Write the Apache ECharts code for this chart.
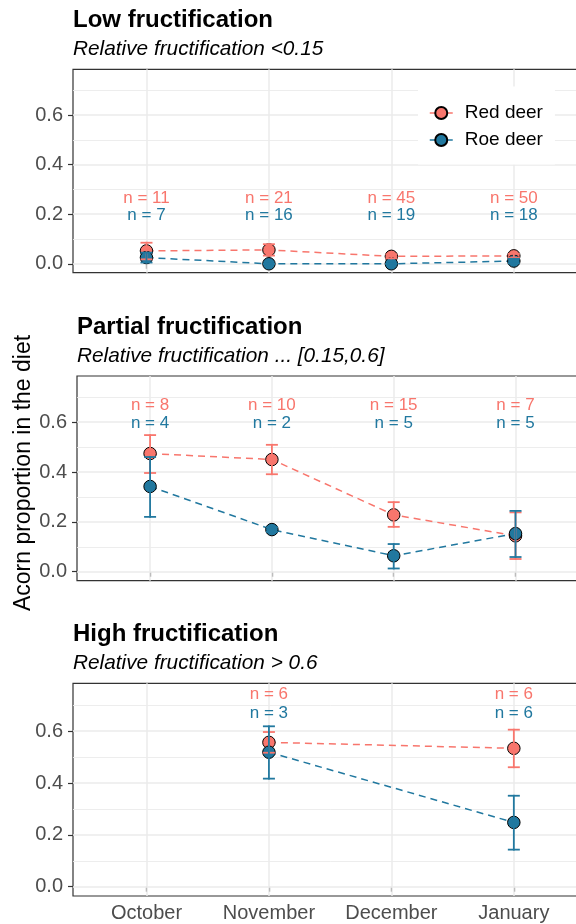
<!DOCTYPE html>
<html>
<head>
<meta charset="utf-8">
<script src="https://cdn.jsdelivr.net/npm/echarts@6/dist/echarts.min.js"></script>
<style>
html,body{margin:0;padding:0;background:#fff;overflow:hidden;width:576px;height:924px;}
#chart{width:600px;height:924px;}
</style>
</head>
<body>
<div id="chart"></div>
<script>
// ---------- data ----------
const months = ['October', 'November', 'December', 'January'];
const yTicks = [0, 0.2, 0.4, 0.6];
const yMinor = [0.1, 0.3, 0.5, 0.7];

const panelTitles = ['Low fructification', 'Partial fructification', 'High fructification'];
const panelSubtitles = ['Relative fructification <0.15', 'Relative fructification ... [0.15,0.6]', 'Relative fructification > 0.6'];

// Low fructification
const lowRedMean = [0.052, 0.056, 0.030, 0.032];
const lowRedLo   = [0.018, 0.033, 0.022, 0.025];
const lowRedHi   = [0.085, 0.079, 0.038, 0.040];
const lowRoeMean = [0.025, 0.000, 0.000, 0.011];
const lowRoeLo   = [0.005, 0.000, 0.000, 0.002];
const lowRoeHi   = [0.045, 0.000, 0.000, 0.020];
const lowRedN = [11, 21, 45, 50];
const lowRoeN = [7, 16, 19, 18];

// Partial fructification
const partRedMean = [0.474, 0.450, 0.228, 0.144];
const partRedLo   = [0.396, 0.391, 0.180, 0.051];
const partRedHi   = [0.548, 0.509, 0.279, 0.238];
const partRoeMean = [0.342, 0.169, 0.064, 0.153];
const partRoeLo   = [0.220, 0.160, 0.013, 0.059];
const partRoeHi   = [0.460, 0.178, 0.111, 0.244];
const partRedN = [8, 10, 15, 7];
const partRoeN = [4, 2, 5, 5];

// High fructification
const highRedMean = [null, 0.557, null, 0.534];
const highRedLo   = [null, 0.517, null, 0.461];
const highRedHi   = [null, 0.597, null, 0.606];
const highRoeMean = [null, 0.519, null, 0.248];
const highRoeLo   = [null, 0.417, null, 0.143];
const highRoeHi   = [null, 0.619, null, 0.351];
const highRedN = [null, 6, null, 6];
const highRoeN = [null, 3, null, 6];

// ---------- layout / style ----------
const RED = '#F8766D';
const BLUE = '#21789F';
const FONT = "'Liberation Sans', Arial, sans-serif";

const panels = [
  {red:[lowRedMean, lowRedLo, lowRedHi], roe:[lowRoeMean, lowRoeLo, lowRoeHi], nRed:lowRedN, nRoe:lowRoeN,
   grid:{left:73, top:69.3, width:514.3, height:203.4}, labY:[0.265, 0.197]},
  {red:[partRedMean, partRedLo, partRedHi], roe:[partRoeMean, partRoeLo, partRoeHi], nRed:partRedN, nRoe:partRoeN,
   grid:{left:77, top:376, width:511.6, height:204.7}, labY:[0.667, 0.597]},
  {red:[highRedMean, highRedLo, highRedHi], roe:[highRoeMean, highRoeLo, highRoeHi], nRed:highRedN, nRoe:highRoeN,
   grid:{left:73, top:683.3, width:514.3, height:212.7}, labY:[0.742, 0.671]}
];

const grids = [], xAxes = [], yAxes = [], series = [], titles = [];

function pts(mean) {
  const out = [];
  mean.forEach((v, i) => { if (v !== null) out.push([i + 1, v]); });
  return out;
}
function bars(mean, lo, hi) {
  const out = [];
  mean.forEach((v, i) => { if (v !== null) out.push([i + 1, lo[i], hi[i]]); });
  return out;
}
function labs(ns, y) {
  const out = [];
  ns.forEach((n, i) => { if (n !== null) out.push([i + 1, y, n]); });
  return out;
}
function errRender(color) {
  return function (params, api) {
    const x = api.value(0);
    const top = api.coord([x, api.value(2)]);
    const bot = api.coord([x, api.value(1)]);
    const w = 6, lw = 1.8;
    const st = {fill: color};
    return {type: 'group', children: [
      {type: 'rect', shape: {x: top[0] - lw / 2, y: top[1] - lw / 2, width: lw, height: bot[1] - top[1] + lw}, style: st},
      {type: 'rect', shape: {x: top[0] - w, y: top[1] - lw / 2, width: 2 * w, height: lw}, style: st},
      {type: 'rect', shape: {x: bot[0] - w, y: bot[1] - lw / 2, width: 2 * w, height: lw}, style: st}
    ]};
  };
}
function labRender(color) {
  return function (params, api) {
    const p = api.coord([api.value(0), api.value(1)]);
    return {type: 'text', x: p[0], y: p[1], style: {
      text: 'n = ' + api.value(2), fill: color, font: '17px ' + FONT, align: 'center', verticalAlign: 'middle'}};
  };
}

panels.forEach((p, k) => {
  grids.push(Object.assign({show: true, borderColor: '#333333', borderWidth: 1.2, backgroundColor: '#fff', z: 0}, p.grid));
  xAxes.push({
    type: 'value', gridIndex: k, min: 0.4, max: 4.6,
    axisLine: {show: false},
    splitLine: {show: false},
    axisTick: {show: true, length: 5, customValues: [1, 2, 3, 4], lineStyle: {color: '#333333', width: 1.2}},
    axisLabel: {show: k === 2, customValues: [1, 2, 3, 4], margin: 7, color: '#4D4D4D', fontSize: 20, fontFamily: FONT,
      formatter: v => months[Math.round(v) - 1]}
  });
  yAxes.push({
    type: 'value', gridIndex: k, min: -0.036, max: 0.785,
    axisLine: {show: false},
    splitLine: {show: false},
    axisTick: {show: true, length: 5, customValues: yTicks, lineStyle: {color: '#333333', width: 1.2}},
    axisLabel: {show: true, customValues: yTicks, margin: 10, color: '#4D4D4D', fontSize: 20, fontFamily: FONT,
      formatter: v => v.toFixed(1)}
  });
  // gridlines
  const ml = [];
  yTicks.forEach(v => ml.push({yAxis: v, lineStyle: {width: 1.5}}));
  yMinor.forEach(v => ml.push({yAxis: v, lineStyle: {width: 0.9}}));
  [1, 2, 3, 4].forEach(v => ml.push({xAxis: v, lineStyle: {width: 1.5}}));
  series.push({
    type: 'line', name: 'grid' + k, xAxisIndex: k, yAxisIndex: k, data: [], z: 1, silent: true,
    markLine: {z: 1, silent: true, symbol: ['none', 'none'], label: {show: false}, animation: false,
      lineStyle: {color: '#EBEBEB', type: 'solid'}, emphasis: {disabled: true}, data: ml}
  });
  [['Red deer', p.red, RED], ['Roe deer', p.roe, BLUE]].forEach(([name, d, col]) => {
    series.push({
      type: 'line', name: name, xAxisIndex: k, yAxisIndex: k, data: pts(d[0]), z: 3,
      symbol: 'circle', symbolSize: 12.5, showSymbol: true,
      lineStyle: {color: col, width: 1.5, type: [7, 5]},
      itemStyle: {color: col, borderColor: '#000', borderWidth: 1},
      emphasis: {disabled: true}
    });
  });
  [['Red deer', p.red, RED], ['Roe deer', p.roe, BLUE]].forEach(([name, d, col]) => {
    series.push({
      type: 'custom', name: name + ' err', xAxisIndex: k, yAxisIndex: k, z: 4,
      data: bars(d[0], d[1], d[2]), renderItem: errRender(col), encode: {x: 0, y: [1, 2]}, silent: true
    });
  });
  series.push({type: 'custom', name: 'nred' + k, xAxisIndex: k, yAxisIndex: k, z: 5, silent: true,
    data: labs(p.nRed, p.labY[0]), renderItem: labRender(RED), encode: {x: 0, y: 1}});
  series.push({type: 'custom', name: 'nroe' + k, xAxisIndex: k, yAxisIndex: k, z: 5, silent: true,
    data: labs(p.nRoe, p.labY[1]), renderItem: labRender(BLUE), encode: {x: 0, y: 1}});

  const top = p.grid.top;
  titles.push({text: panelTitles[k], left: p.grid.left, top: top - 62, padding: 0,
    textStyle: {fontSize: 24, fontWeight: 'bold', color: '#000', fontFamily: FONT, lineHeight: 26}});
  titles.push({text: panelSubtitles[k], left: p.grid.left, top: top - 32, padding: 0,
    textStyle: {fontSize: 20.8, fontStyle: 'italic', fontWeight: 'normal', color: '#000', fontFamily: FONT, lineHeight: 24}});
});

const chart = echarts.init(document.getElementById('chart'), null, {renderer: 'canvas'});
chart.setOption({
  animation: false,
  backgroundColor: '#fff',
  title: titles,
  grid: grids,
  xAxis: xAxes,
  yAxis: yAxes,
  legend: {
    data: ['Red deer', 'Roe deer'],
    orient: 'vertical', left: 418, top: 86.5,
    z: 20,
    backgroundColor: '#fff',
    padding: [16, 12, 14, 11],
    itemWidth: 23, itemHeight: 15, itemGap: 6,
    textStyle: {fontSize: 19, color: '#000', fontFamily: FONT, lineHeight: 21, padding: [0, 0, 0, 7]},
    lineStyle: {type: 'solid', width: 1.5},
    selectedMode: false
  },
  graphic: [{
    type: 'text', x: 24, y: 473, rotation: Math.PI / 2,
    style: {text: 'Acorn proportion in the diet', font: '23px ' + FONT, fill: '#000', align: 'center', verticalAlign: 'middle'}
  }],
  series: series
});
</script>
</body>
</html>
